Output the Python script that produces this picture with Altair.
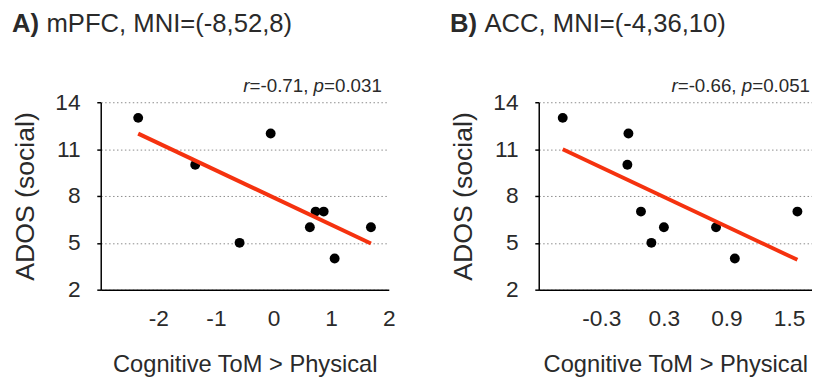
import altair as alt
import pandas as pd

# ---- data ----
A_x = [-2.35, -1.36, -0.05, -0.59, 0.63, 0.73, 0.87, 1.06, 1.69]
A_y = [13, 10, 12, 5, 6, 7, 7, 4, 6]
B_x = [-0.67, -0.04, -0.05, 0.08, 0.18, 0.30, 0.80, 0.98, 1.58]
B_y = [13, 12, 10, 7, 5, 6, 6, 4, 7]

LETTERS = ["A)", "B)"]
REGIONS = ["mPFC, MNI=(-8,52,8)", "ACC, MNI=(-4,36,10)"]
R_VALS = ["=-0.71,", "=-0.66,"]
P_VALS = ["=0.031", "=0.051"]
Y_TICKS = [2, 5, 8, 11, 14]
A_XTICKS = [-2, -1, 0, 1, 2]
B_XTICKS = [-0.3, 0.3, 0.9, 1.5]
X_TITLE = "Cognitive ToM > Physical"
Y_TITLE = "ADOS (social)"

FONT = "Liberation Sans"
TXT = "#2a2a2a"
RED = "#F5320F"
ANN_SIZE = 19
TITLE_SIZE = 26

# Helvetica/Arial advance widths (em) for placing the mixed-style annotation
W = {"=": .584, "-": .333, "0": .556, "1": .556, "2": .556, "3": .556, "4": .556,
     "5": .556, "6": .556, "7": .556, "8": .556, "9": .556, ".": .278, ",": .278,
     " ": .278, "r": .333, "p": .556}


def tw(s, size):
    return sum(W[c] for c in s) * size


def txt(s, x, y, size, align="left", weight="normal", style="normal"):
    return alt.Chart(pd.DataFrame({"t": [s]})).mark_text(
        align=align, baseline="alphabetic", font=FONT, fontSize=size,
        fontWeight=weight, fontStyle=style, color=TXT
    ).encode(x=alt.value(x), y=alt.value(y), text="t:N")


def panel(xs, ys, xdomain, xticks, fmt, width, i, ann_gap):
    df = pd.DataFrame({"x": xs, "y": ys})
    base = alt.Chart(df)
    xenc = alt.X("x:Q", scale=alt.Scale(domain=xdomain, nice=False, zero=False),
                 axis=alt.Axis(values=xticks, title=X_TITLE, grid=False, ticks=False,
                               labelFlush=False, labelPadding=18, titlePadding=23,
                               labelExpr="replace(format(datum.value, '%s'), '\u2212', '-')" % fmt))
    yenc = alt.Y("y:Q", scale=alt.Scale(domain=[2, 14], nice=False, zero=False),
                 axis=alt.Axis(values=Y_TICKS, title=Y_TITLE, grid=True,
                               gridDash=[1.5, 2.5], gridColor="#8a8a8a", gridWidth=1,
                               ticks=True, tickSize=4, labelPadding=17, titlePadding=16))
    pts = base.mark_circle(size=100, color="black", opacity=1).encode(x=xenc, y=yenc)
    line = base.transform_regression("x", "y").mark_line(
        color=RED, strokeWidth=4, strokeCap="butt").encode(x="x:Q", y="y:Q")

    xr = width - ann_gap
    yb = -10
    p_part = P_VALS[i]
    r_part = R_VALS[i]
    x_p = xr - tw(p_part, ANN_SIZE)
    x_r = x_p - tw("p", ANN_SIZE) - tw(" ", ANN_SIZE)
    x_rr = x_r - tw(r_part, ANN_SIZE)
    ann = [
        txt(p_part, xr, yb, ANN_SIZE, align="right"),
        txt("p", x_p, yb, ANN_SIZE, align="right", style="italic"),
        txt(r_part, x_r, yb, ANN_SIZE, align="right"),
        txt("r", x_rr, yb, ANN_SIZE, align="right", style="italic"),
    ]
    title = [
        txt(LETTERS[i], -90, -71, TITLE_SIZE, weight="bold"),
        txt(REGIONS[i], -55, -71, TITLE_SIZE),
    ]
    return alt.layer(pts, line, *ann, *title).properties(width=width, height=190)


pA = panel(A_x, A_y, [-3, 2], A_XTICKS, "d", 292, 0, 7)
pB = panel(B_x, B_y, [-0.9, 1.72], B_XTICKS, ".1f", 277, 1, 2)

chart = alt.hconcat(pA, pB, spacing=54).properties(
    padding={"left": 3, "top": 1, "right": 0, "bottom": 0}
).configure_view(stroke=None).configure_axis(
    labelFont=FONT, labelFontSize=23, labelColor=TXT,
    titleFont=FONT, titleFontSize=24, titleFontWeight="normal", titleColor=TXT,
    domainColor="black", domainWidth=1.5, tickColor="black", tickWidth=1.5
).configure_axisY(titleFontSize=27)

chart.save("out.html", embed_options={"renderer": "svg", "actions": False})
